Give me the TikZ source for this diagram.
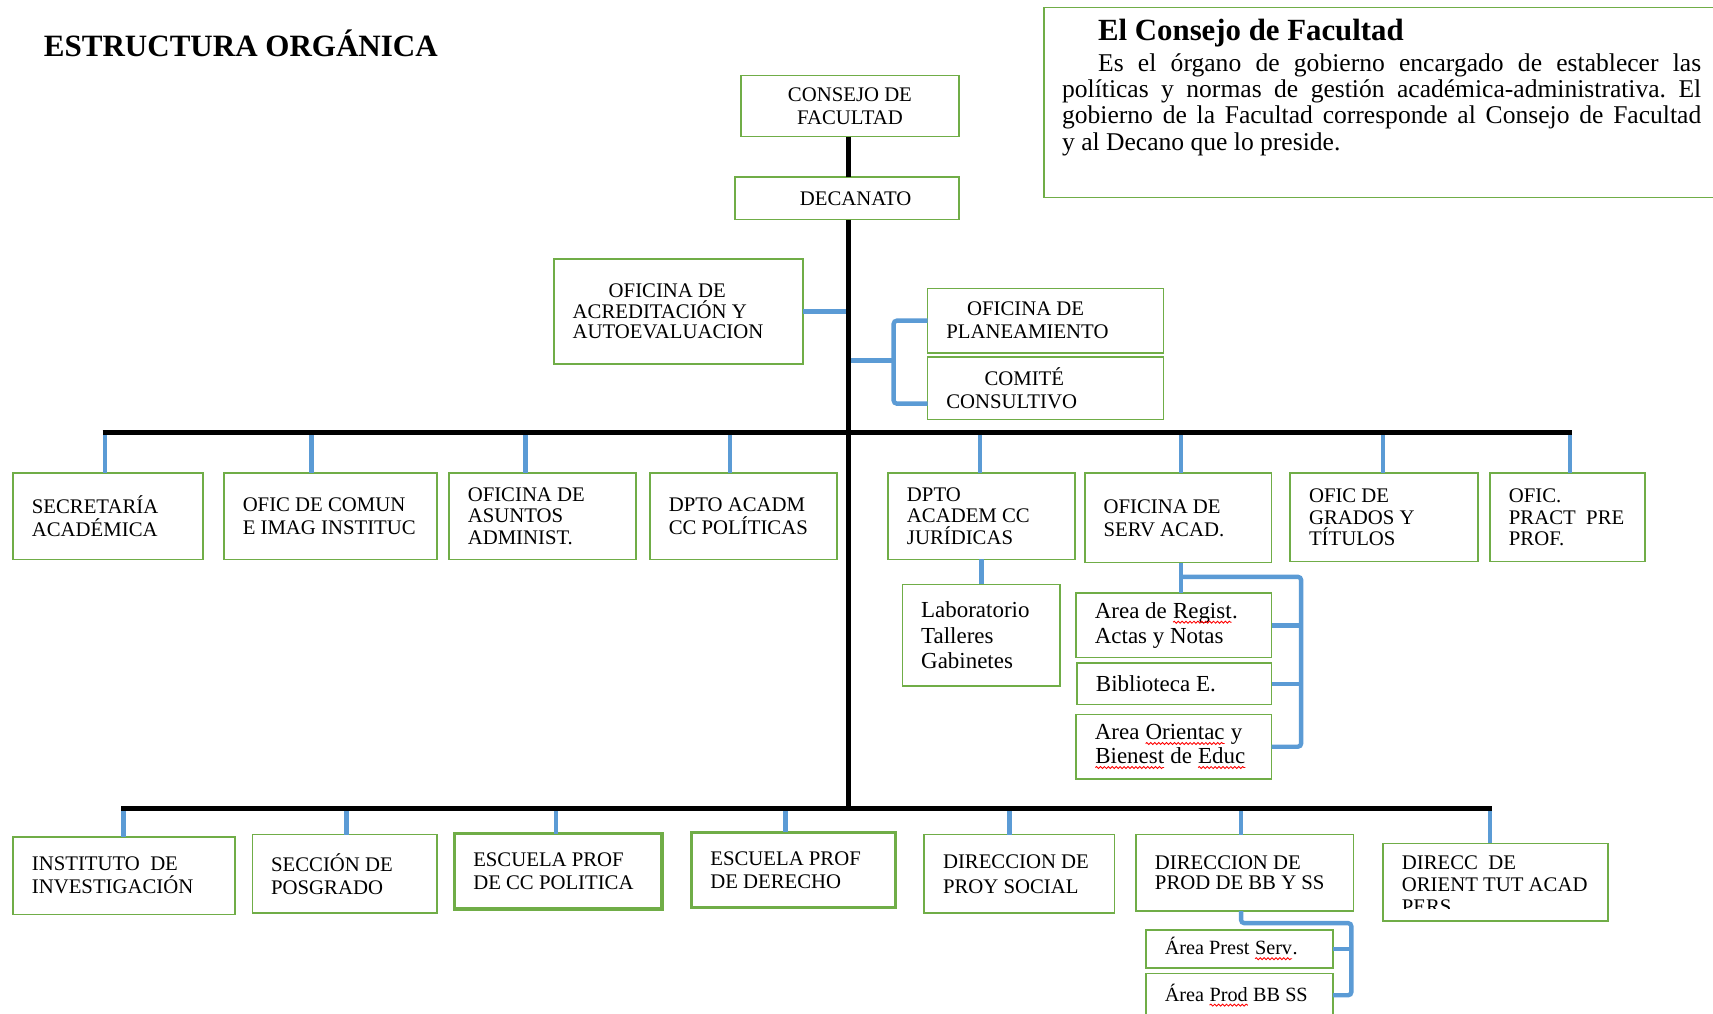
\documentclass[tikz,border=0pt]{standalone}
\usepackage{fontspec}
\setmainfont{Liberation Serif}
\usetikzlibrary{calc,decorations.pathmorphing}
\definecolor{gr}{HTML}{70AD47}
\definecolor{bl}{HTML}{5B9BD5}
\frenchspacing
\newcommand\rwave[1]{\tikz[baseline=(w.base),x=1pt,y=1pt]{\node[inner sep=0pt,outer sep=0pt](w){#1};\draw[red,line width=0.8pt,decorate,decoration={snake,amplitude=0.9pt,segment length=3.6pt}] ([yshift=-3.5pt]w.base west) -- ([yshift=-3.5pt]w.base east);}}
\newcommand\obox[8]{%
  \node[box,minimum width=#4pt,minimum height=#5pt,#6] (#1) at (#2,#3) {};
  \node[txt,#7] (#1-t) at ([xshift=17pt]#1.west) {#8};}
\tikzset{
  box/.style={draw=gr,line width=1.5pt,anchor=north west,inner sep=0pt,outer sep=0pt},
  thick box/.style={line width=3pt},
  txt/.style={anchor=west,align=left,inner sep=0pt,font=\fontsize{19}{21}\selectfont},
  big/.style={font=\fontsize{21}{23.5}\selectfont},
  mid/.style={font=\fontsize{18.5}{21}\selectfont},
  blu/.style={draw=bl,line width=4pt},
  blk/.style={draw=black,line width=4.5pt}
}
\begin{document}
\begin{tikzpicture}[x=1pt,y=-1pt]
\fill[white] (0,0) rectangle (1568,928);
\clip (0,0) rectangle (1568,928);

% title
\node[anchor=base west,inner sep=0pt,font=\bfseries\fontsize{28.4}{30}\selectfont] (title) at (40,52) {ESTRUCTURA ORGÁNICA};

% info box
\node[draw=gr,line width=1.5pt,anchor=north west,inner sep=0pt,minimum width=640pt,minimum height=174pt] (info) at (955,6) {};
\node[anchor=base west,inner sep=0pt,font=\bfseries\fontsize{28.2}{30}\selectfont] (infot) at (1005,37) {El Consejo de Facultad};
\node[anchor=north west,inner sep=0pt,text width=585pt,align=justify,font=\fontsize{23.4}{24}\selectfont] (infob) at (972,49) {\hspace*{33pt}Es el órgano de gobierno encargado de establecer las\linebreak políticas y normas de gestión académica-administrativa. El\linebreak gobierno de la Facultad corresponde al Consejo de Facultad\linebreak y al Decano que lo preside.};

% top boxes
\node[box,minimum width=200pt,minimum height=56pt] (cons) at (678,69) {};
\node[txt,anchor=center,align=center] (cons-t) at (cons.center) {CONSEJO DE\\FACULTAD};
\obox{dec}{673}{162}{205}{39}{}{}{\hspace*{42pt}DECANATO}
\obox{acr}{507}{237}{228}{96}{}{font=\fontsize{19}{19}\selectfont}{\hspace*{33pt}OFICINA DE\\ACREDITACIÓN Y\\AUTOEVALUACION}
\obox{plan}{849}{264}{216}{59}{}{}{\hspace*{19pt}OFICINA DE\\PLANEAMIENTO}
\obox{com}{849}{327}{216}{57}{}{}{\hspace*{35pt}COMITÉ\\CONSULTIVO}

% row 1
\obox{sec}{12}{433}{174}{79}{}{}{SECRETARÍA\\ACADÉMICA}
\obox{cmn}{205}{433}{195}{79}{}{}{OFIC DE COMUN\\E IMAG INSTITUC}
\obox{asu}{411}{433}{171}{79}{}{font=\fontsize{19}{20}\selectfont}{OFICINA DE\\ASUNTOS\\ADMINIST.}
\obox{pol}{595}{433}{171}{79}{}{}{DPTO ACADM\\CC POLÍTICAS}
\obox{jur}{813}{433}{171}{79}{}{font=\fontsize{19}{20}\selectfont}{DPTO\\ACADEM CC\\JURÍDICAS}
\obox{serv}{993}{433}{171}{82}{}{}{OFICINA DE\\SERV ACAD.}
\obox{gra}{1181}{433}{172}{81}{}{font=\fontsize{19}{20}\selectfont}{OFIC DE\\GRADOS Y\\TÍTULOS}
\obox{pra}{1364}{433}{142}{81}{}{font=\fontsize{19}{20}\selectfont}{OFIC.\\PRACT\ \ PRE\\PROF.}

% sub boxes row 1
\obox{lab}{826}{535}{144}{93}{}{big}{Laboratorio\\Talleres\\Gabinetes}
\obox{reg}{985}{543}{179}{59}{}{font=\fontsize{21}{23}\selectfont}{Area de \rwave{Regist}.\\Actas y Notas}
\obox{bib}{986}{607}{178}{38}{}{font=\fontsize{21}{23}\selectfont}{Biblioteca E.}
\obox{ori}{985}{654}{179}{59}{}{font=\fontsize{21}{22}\selectfont}{Area \rwave{Orientac} y\\\rwave{Bienest} de \rwave{Educ}}

% row 2
\obox{ins}{12}{766}{203}{71}{}{}{INSTITUTO\ \ DE\\INVESTIGACIÓN}
\obox{pos}{231}{764}{169}{72}{}{}{SECCIÓN DE\\POSGRADO}
\obox{epol}{416}{763}{190}{69}{thick box}{}{ESCUELA PROF\\DE CC POLITICA}
\obox{eder}{633}{762}{187}{69}{thick box}{}{ESCUELA PROF\\DE DERECHO}
\obox{proy}{846}{764}{174}{72}{}{font=\fontsize{19}{23}\selectfont}{DIRECCION DE\\PROY SOCIAL}
\obox{prod}{1040}{764}{199}{70}{}{font=\fontsize{19}{18.5}\selectfont}{DIRECCION DE\\PROD DE BB Y SS}
\node[box,minimum width=206pt,minimum height=71pt] (dor) at (1266,772) {};
\begin{scope}
\clip (1266,772) rectangle (1472,832);
\node[txt,anchor=north west,font=\fontsize{19}{20}\selectfont] (dor-t) at (1283,783) {DIRECC\ \ DE\\ORIENT TUT ACAD\\PERS};
\end{scope}
\obox{prest}{1049}{851}{171}{35}{}{mid}{Área Prest \rwave{Serv}.}
\obox{pbs}{1049}{891}{171}{40}{}{mid}{Área \rwave{Prod} BB SS}

% blue connectors
\draw[blu] (acr.east) -- (acr.east -| cons.south);
\coordinate (pm) at (777,330);
\coordinate (pb) at (818,330);
\draw[blu] (pm) -- (pb);
\draw[blu,rounded corners=3pt] (plan.west) -| (pb) |- ([yshift=-14pt]com.west);

\foreach \n/\x in {sec/96,cmn/285,asu/481,pol/668,jur/897,serv/1081,gra/1266,pra/1437}{
  \coordinate (d-\n) at (\x,396);
  \draw[blu] (d-\n) -- (d-\n |- \n.north);
}
\foreach \n/\x in {ins/113,pos/317,epol/509,eder/719,proy/924,prod/1136,dor/1364}{
  \coordinate (e-\n) at (\x,740);
  \draw[blu] (e-\n) -- (e-\n |- \n.north);
}
\draw[blu] (jur.south) -- (jur.south |- lab.north);

\coordinate (sv) at (1081,528);
\coordinate (sr) at (1191,528);
\draw[blu] (serv.south -| sv) -- (reg.north -| sv);
\draw[blu,rounded corners=3pt] (sv) -- (sr) |- (ori.east);
\draw[blu] (reg.east) -- (reg.east -| sr);
\draw[blu] (bib.east) -- (bib.east -| sr);

\coordinate (pv) at (1136,845);
\coordinate (pr) at (1237,845);
\draw[blu,rounded corners=3pt] (prod.south -| pv) -- (pv) -- (pr) |- (pbs.east);
\draw[blu] (prest.east) -- (prest.east -| pr);

% black spine and bars
\coordinate (j1) at (777,396);
\coordinate (j2) at (777,742);
\draw[blk] (cons.south -| j1) -- (dec.north -| j1);
\draw[blk] (dec.south -| j1) -- (j2);
\coordinate (b1l) at (94,396);
\coordinate (b1r) at (1439,396);
\draw[blk] (b1l) -- (b1r);
\coordinate (b2l) at (111,740);
\coordinate (b2r) at (1366,740);
\draw[blk] (b2l) -- (b2r);
\end{tikzpicture}
\end{document}
